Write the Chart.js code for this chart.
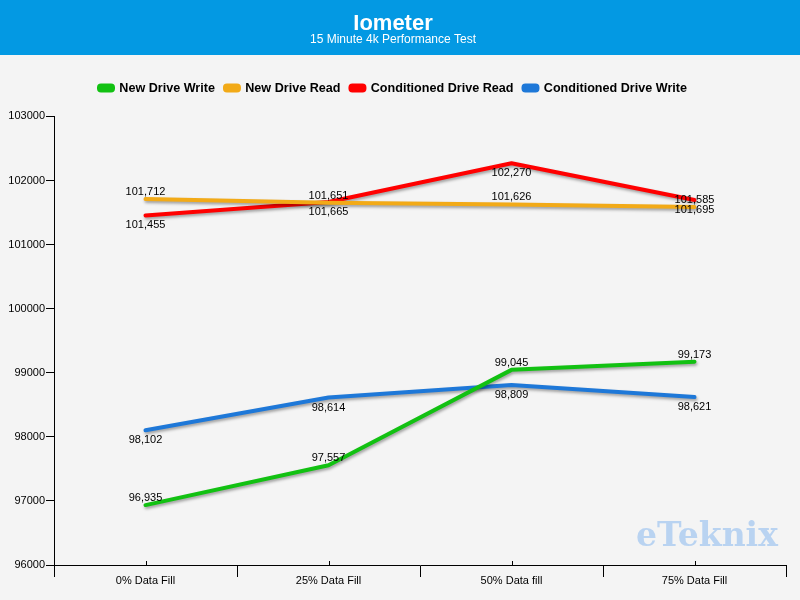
<!DOCTYPE html>
<html>
<head>
<meta charset="utf-8">
<script src="https://cdn.jsdelivr.net/npm/chart.js@4.4.1/dist/chart.umd.min.js"></script>
<style>
  html, body { margin: 0; padding: 0; background: #f4f4f4; }
  #wrap { width: 800px; height: 600px; }
</style>
</head>
<body>
<div id="wrap"><canvas id="c" width="800" height="600"></canvas></div>
<script>
const categories = ['0% Data Fill', '25% Data Fill', '50% Data fill', '75% Data Fill'];
const newDriveWrite = [96935, 97557, 99045, 99173];
const newDriveRead = [101712, 101651, 101626, 101585];
const conditionedDriveRead = [101455, 101665, 102270, 101695];
const conditionedDriveWrite = [98102, 98614, 98809, 98621];
const yTicks = [96000, 97000, 98000, 99000, 100000, 101000, 102000, 103000];

const FONT = "'Liberation Sans', Arial, sans-serif";

const bgPlugin = {
  id: 'bg',
  afterInit(chart) {
    const lg = chart.legend;
    if (lg && !lg._patched) {
      const orig = lg.fit.bind(lg);
      lg.fit = function () { orig(); this.height += 12; };
      lg._patched = true;
    }
  },
  beforeDraw(chart) {
    const ctx = chart.ctx;
    ctx.save();
    ctx.fillStyle = '#f4f4f4';
    ctx.fillRect(0, 0, chart.width, chart.height);
    ctx.fillStyle = '#0399e3';
    ctx.fillRect(0, 0, chart.width, 55);
    ctx.restore();
  }
};

const shadowPlugin = {
  id: 'shadow',
  beforeDatasetsDraw(chart) {
    const ctx = chart.ctx;
    ctx.save();
    ctx.shadowColor = 'rgba(0,0,0,0.35)';
    ctx.shadowBlur = 3;
    ctx.shadowOffsetX = 1;
    ctx.shadowOffsetY = 2;
  },
  afterDatasetsDraw(chart) {
    chart.ctx.restore();
  }
};

const labelPlugin = {
  id: 'valueLabels',
  afterDatasetsDraw(chart) {
    const ctx = chart.ctx;
    ctx.save();
    ctx.shadowColor = 'transparent';
    ctx.font = '11px ' + FONT;
    ctx.fillStyle = '#000';
    ctx.textAlign = 'center';
    ctx.textBaseline = 'middle';
    chart.data.datasets.forEach((ds, i) => {
      const meta = chart.getDatasetMeta(i);
      meta.data.forEach((pt, j) => {
        const v = ds.data[j];
        const dy = ds.labelPos === 'above' ? -7 : 10;
        ctx.fillText(v.toLocaleString('en-US'), pt.x, pt.y + dy);
      });
    });
    ctx.restore();
  }
};

const extrasPlugin = {
  id: 'extras',
  afterDraw(chart) {
    const ctx = chart.ctx;
    const xs = chart.scales.x;
    const bottom = chart.chartArea.bottom;
    ctx.save();
    ctx.strokeStyle = '#000';
    ctx.lineWidth = 1;
    categories.forEach((c, i) => {
      const x = Math.round(xs.getPixelForValue(i)) + 0.5;
      ctx.beginPath();
      ctx.moveTo(x, bottom);
      ctx.lineTo(x, bottom - 4);
      ctx.stroke();
    });
    // watermark
    ctx.font = "bold 33px 'DejaVu Serif', serif";
    ctx.fillStyle = 'rgba(165, 200, 240, 0.75)';
    ctx.textAlign = 'left';
    ctx.textBaseline = 'middle';
    ctx.fillText('eTeknix', 636, 537);
    ctx.restore();
  }
};

new Chart(document.getElementById('c'), {
  type: 'line',
  data: {
    labels: categories,
    datasets: [
      { label: 'New Drive Write', data: newDriveWrite, borderColor: '#12c112', backgroundColor: '#12c112', labelPos: 'above' },
      { label: 'New Drive Read', data: newDriveRead, borderColor: '#f2aa17', backgroundColor: '#f2aa17', labelPos: 'above' },
      { label: 'Conditioned Drive Read', data: conditionedDriveRead, borderColor: '#ff0000', backgroundColor: '#ff0000', labelPos: 'below' },
      { label: 'Conditioned Drive Write', data: conditionedDriveWrite, borderColor: '#1e78d8', backgroundColor: '#1e78d8', labelPos: 'below' }
    ]
  },
  options: {
    responsive: false,
    animation: false,
    devicePixelRatio: 1,
    layout: { padding: { left: 0, right: 14, top: 0, bottom: 0 } },
    elements: {
      line: { borderWidth: 4, tension: 0, borderCapStyle: 'round', borderJoinStyle: 'round' },
      point: { radius: 0, hoverRadius: 0 }
    },
    plugins: {
      title: {
        display: true,
        text: 'Iometer',
        color: '#ffffff',
        font: { family: FONT, size: 22, weight: 'bold' },
        padding: { top: 11, bottom: 0 }
      },
      subtitle: {
        display: true,
        text: '15 Minute 4k Performance Test',
        color: '#ffffff',
        font: { family: FONT, size: 12 },
        padding: { top: -5, bottom: 25 }
      },
      legend: {
        display: true,
        labels: {
          color: '#000',
          font: { family: FONT, size: 12.6, weight: 'bold' },
          boxWidth: 14,
          boxHeight: 5,
          useBorderRadius: true,
          borderRadius: 2,
          padding: 10
        }
      },
      tooltip: { enabled: false }
    },
    scales: {
      x: {
        type: 'category',
        offset: true,
        grid: { offset: true, drawOnChartArea: false, tickLength: 12, color: '#000' },
        border: { color: '#000' },
        ticks: { color: '#000', font: { family: FONT, size: 11 }, padding: -3, maxRotation: 0 },
        afterFit(s) { s.height = 35; }
      },
      y: {
        min: 96000,
        max: 103000,
        afterBuildTicks(s) { s.ticks = yTicks.map(v => ({ value: v })); },
        grid: { drawOnChartArea: false, tickLength: 8, color: '#000' },
        border: { color: '#000' },
        ticks: { color: '#000', font: { family: FONT, size: 11 }, padding: 1, callback: v => String(v) },
        afterFit(s) { s.width = 54; }
      }
    }
  },
  plugins: [bgPlugin, shadowPlugin, labelPlugin, extrasPlugin]
});
</script>
</body>
</html>
